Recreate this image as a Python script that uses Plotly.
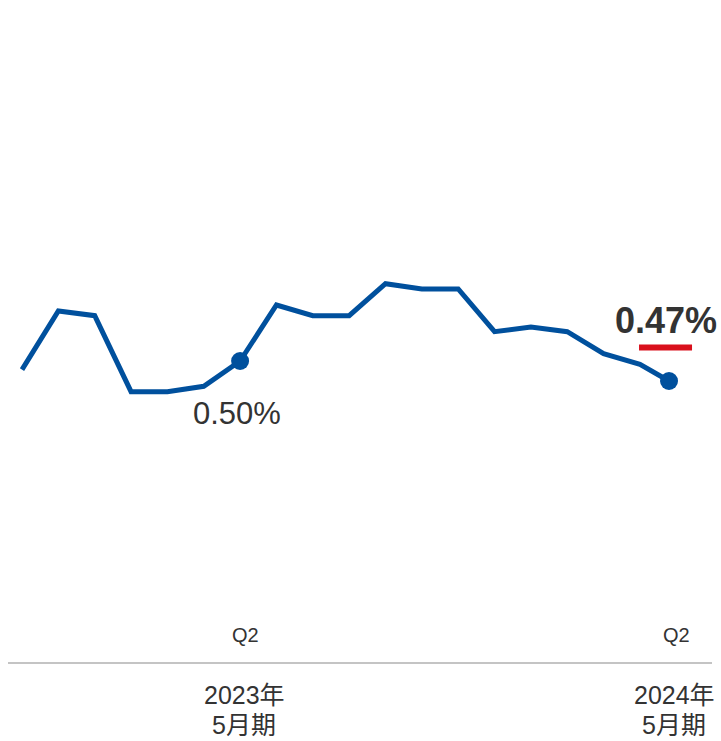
import plotly.graph_objects as go

# Quarter positions along the time axis (the last reading sits just short of a full quarter)
quarters = [0, 1, 2, 3, 4, 5, 6, 7, 8, 9, 10, 11, 12, 13, 14, 15, 16, 17, 17.8]
# Ratio (%) for each reading
ratio = [0.487, 0.575, 0.568, 0.454, 0.454, 0.462, 0.500, 0.584, 0.568, 0.568,
         0.616, 0.608, 0.608, 0.544, 0.551, 0.544, 0.511, 0.495, 0.470]

# Highlighted readings (index into the series) and their labels
highlight_idx = [6, 18]
quarter_labels = ["Q2", "Q2"]
year_labels = ["2023年", "2024年"]
period_labels = ["5月期", "5月期"]

BLUE = "#00509D"
RED = "#D9101C"
TEXT = "#333333"
FONT = "Arial, Liberation Sans, Noto Sans CJK JP, sans-serif"

W, H = 721, 741

fig = go.Figure()
fig.add_trace(go.Scatter(
    x=quarters, y=ratio, mode="lines",
    line=dict(color=BLUE, width=5),
    hoverinfo="skip", showlegend=False,
))
fig.add_trace(go.Scatter(
    x=[quarters[i] for i in highlight_idx],
    y=[ratio[i] for i in highlight_idx],
    mode="markers",
    marker=dict(color=BLUE, size=18),
    hoverinfo="skip", showlegend=False,
))

first, last = highlight_idx
# Value labels
fig.add_annotation(
    x=quarters[first], y=ratio[first], xref="x", yref="y",
    text=f"{ratio[first]:.2f}%", showarrow=False,
    xshift=-3, yshift=-52,
    font=dict(family=FONT, size=31, color=TEXT),
)
fig.add_annotation(
    x=quarters[last], y=ratio[last], xref="x", yref="y",
    text=f"<b>{ratio[last]:.2f}%</b>", showarrow=False,
    xshift=-3, yshift=61,
    font=dict(family=FONT, size=36, color=TEXT),
)
# Red accent bar under the latest value
fig.add_shape(
    type="line", xref="x", yref="y",
    xsizemode="pixel", ysizemode="pixel",
    xanchor=quarters[last], yanchor=ratio[last],
    x0=-30, x1=23, y0=33.5, y1=33.5,
    line=dict(color=RED, width=6),
)

# Quarter and fiscal-period labels
for i, ql, yl, pl, qs, ps in zip(highlight_idx, quarter_labels, year_labels,
                                 period_labels, [5, 7], [4, 5]):
    fig.add_annotation(
        x=quarters[i], y=1 - 635 / H, xref="x", yref="paper",
        xanchor="center", yanchor="middle",
        text=ql, showarrow=False, xshift=qs,
        font=dict(family=FONT, size=20, color=TEXT),
    )
    for text, ypx in ((yl, 695), (pl, 725)):
        fig.add_annotation(
            x=quarters[i], y=1 - ypx / H, xref="x", yref="paper",
            xanchor="center", yanchor="middle", borderpad=0,
            text=text, showarrow=False, xshift=ps,
            font=dict(family=FONT, size=25, color=TEXT),
        )

# Baseline rule
fig.add_shape(
    type="line", xref="paper", yref="paper",
    x0=8 / W, x1=712 / W, y0=1 - 663 / H, y1=1 - 663 / H,
    line=dict(color="#C4C4C4", width=2),
)

px_per_q = 36.35
x_left = 22.0
px_per_unit = 0.0015
y_ref_px, y_ref_val = 361.0, 0.50

fig.update_layout(
    width=W, height=H,
    margin=dict(l=0, r=0, t=0, b=0),
    paper_bgcolor="white", plot_bgcolor="white",
    xaxis=dict(visible=False,
               range=[-x_left / px_per_q, (W - x_left) / px_per_q]),
    yaxis=dict(visible=False,
               range=[y_ref_val - (H - y_ref_px) * px_per_unit,
                      y_ref_val + y_ref_px * px_per_unit]),
)

fig.write_html("out.html")
